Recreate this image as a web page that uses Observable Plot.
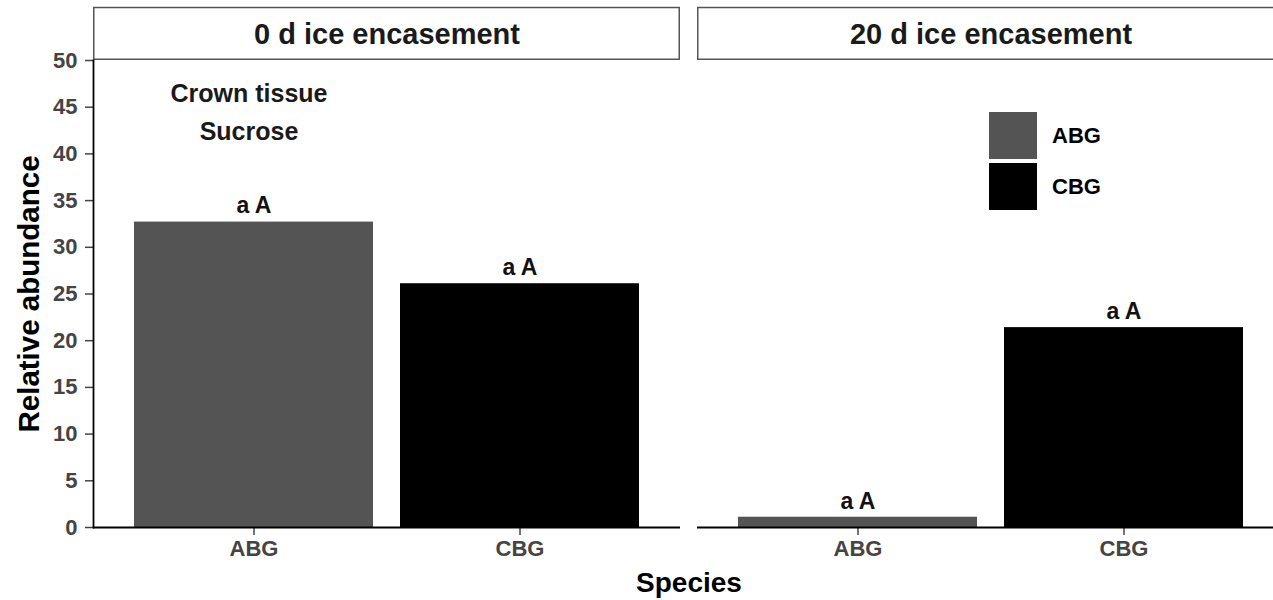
<!DOCTYPE html>
<html>
<head>
<meta charset="utf-8">
<script src="https://cdn.jsdelivr.net/npm/d3@7"></script>
<script src="https://cdn.jsdelivr.net/npm/@observablehq/plot@0.6"></script>
<style>
  html, body { margin: 0; padding: 0; background: #fff; overflow: hidden; }
  #wrap { position: relative; width: 1273px; height: 600px; overflow: hidden;
          font-family: "Liberation Sans", Arial, Helvetica, sans-serif; }
  #wrap svg { max-width: none !important; }
  #legend { position: absolute; left: 989px; top: 112px; }
  .lrow { display: flex; align-items: center; height: 47px; margin-bottom: 4px; }
  .lkey { width: 48px; height: 47px; }
  .llab { margin-left: 15px; font-weight: bold; font-size: 22px; color: #000; }
</style>
</head>
<body>
<div id="wrap"></div>
<script>
// ---- data ----
const panels = ["0 d ice encasement", "20 d ice encasement"];
const species = ["ABG", "CBG"];
const abundance0d = [32.7, 26.1];
const abundance20d = [1.1, 21.4];
const letters0d = ["a A", "a A"];
const letters20d = ["a A", "a A"];
const yTicks = [0, 5, 10, 15, 20, 25, 30, 35, 40, 45, 50];
const noteLines = ["Crown tissue", "Sucrose"];
const speciesColors = ["#545454", "#000000"];

// ---- table built from the arrays ----
const values = [abundance0d, abundance20d];
const letters = [letters0d, letters20d];
const rows = [];
panels.forEach((p, i) => species.forEach((s, j) => rows.push({
  panel: p, species: s, value: values[i][j], letter: letters[i][j]
})));
const note = [{panel: panels[0], species: species[0], text: noteLines.join("\n")}];

const font = "'Liberation Sans', Arial, Helvetica, sans-serif";

const chart = Plot.plot({
  width: 1290,
  height: 600,
  marginTop: 60,
  marginBottom: 73,
  marginLeft: 93,
  marginRight: 6,
  style: {fontFamily: font, background: "white", overflow: "visible"},
  fx: {domain: panels, paddingInner: 0.0282, paddingOuter: 0, axis: null, label: null},
  x: {domain: species, paddingInner: 0.1, paddingOuter: 0.15, axis: null, label: null},
  y: {domain: [0, 50], axis: null, label: null},
  color: {domain: species, range: speciesColors},
  marks: [
    // facet strips
    Plot.rect(panels, {fx: d => d, y1: 50, y2: 55.7, fill: "white", stroke: "#555", strokeWidth: 1.5, inset: 0.75, clip: false}),
    Plot.text(panels, {fx: d => d, text: d => d, frameAnchor: "top", lineAnchor: "middle", dy: -26, fontSize: 29, fontWeight: "bold", fill: "#1a1a1a"}),
    // bars
    Plot.barY(rows, {fx: "panel", x: "species", y: "value", fill: "species"}),
    // significance letters
    Plot.text(rows, {fx: "panel", x: "species", y: "value", text: "letter", dy: -16, fontSize: 23, fontWeight: "bold", fill: "#111"}),
    // annotation
    Plot.text(note, {fx: "panel", x: "species", text: "text", frameAnchor: "top", lineAnchor: "middle", dx: -5, dy: 48.5, lineHeight: 1.5, fontSize: 25, fontWeight: "bold", fill: "#1a1a1a"}),
    // axes
    Plot.axisY({ticks: yTicks, tickSize: 8, tickPadding: 8, fontSize: 22, fontWeight: "bold", color: "#444", strokeWidth: 1.5, label: null}),
    Plot.axisX({tickSize: 8, tickPadding: 5, fontSize: 22, fontWeight: "bold", color: "#444", strokeWidth: 1.5, label: null}),
    Plot.ruleY([0], {stroke: "#000", strokeWidth: 1.8}),
    Plot.frame({anchor: "left", facetAnchor: "left", stroke: "#000", strokeWidth: 1.8}),
    // axis titles
    Plot.text(["Relative abundance"], {facet: "super", frameAnchor: "left", textAnchor: "middle", lineAnchor: "middle", rotate: -90, dx: -64, fontSize: 29.5, fontWeight: "bold", fill: "#000"}),
    Plot.text(["Species"], {facet: "super", frameAnchor: "bottom", textAnchor: "middle", lineAnchor: "middle", dy: 56, fontSize: 28, fontWeight: "bold", fill: "#000"})
  ]
});
chart.style.maxWidth = "none";

const wrap = document.getElementById("wrap");
wrap.appendChild(chart);

// legend (HTML)
const legend = document.createElement("div");
legend.id = "legend";
species.forEach((s, i) => {
  const row = document.createElement("div");
  row.className = "lrow";
  const key = document.createElement("div");
  key.className = "lkey";
  key.style.background = speciesColors[i];
  const lab = document.createElement("span");
  lab.className = "llab";
  lab.textContent = s;
  row.appendChild(key);
  row.appendChild(lab);
  legend.appendChild(row);
});
wrap.appendChild(legend);
</script>
</body>
</html>
